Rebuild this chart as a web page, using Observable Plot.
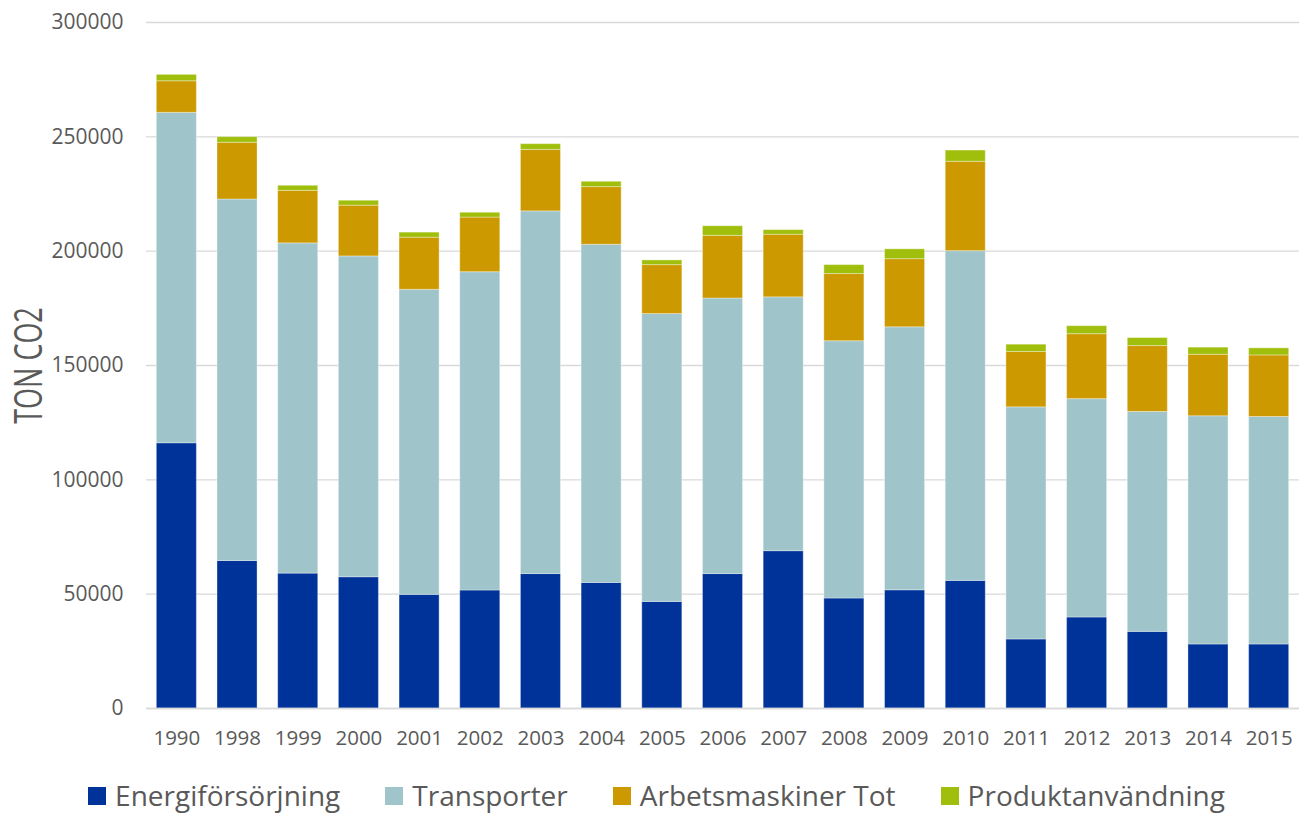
<!DOCTYPE html>
<html>
<head>
<meta charset="utf-8">
<script src="https://cdn.jsdelivr.net/npm/d3@7"></script>
<script src="https://cdn.jsdelivr.net/npm/@observablehq/plot@0.6"></script>
<style>
  body { margin: 0; background: #fff; font-family: "Open Sans", sans-serif; }
  #wrap { position: relative; width: 1299px; height: 813px; overflow: hidden; }
  #legend { position: absolute; top: 779px; left: 0; width: 1285px; padding-left: 14px; height: 31px; display: flex; justify-content: center; gap: 45px; font-size: 28px; line-height: 30px; color: #595959; }
  #legend .item { display: flex; align-items: center; white-space: nowrap; }
  #legend .sw { width: 18px; height: 18px; margin-right: 9px; margin-top: 2px; }
</style>
</head>
<body>
<div id="wrap"><div id="chart"></div><div id="legend"></div></div>
<script>
const years = ["1990","1998","1999","2000","2001","2002","2003","2004","2005","2006","2007","2008","2009","2010","2011","2012","2013","2014","2015"];
const energi =      [116000, 64500, 59000, 57400, 49700, 51600, 58800, 54900, 46600, 58800, 68800, 48100, 51700, 55800, 30200, 39800, 33500, 28000, 28000];
const transporter = [144500,158100,144400,140300,133400,139200,158600,147900,125900,120500,111000,112500,115000,144200,101500, 95500, 96200, 99800, 99500];
const arbets =      [ 13800, 24800, 23000, 22200, 22800, 23900, 26900, 25200, 21400, 27400, 27400, 29400, 29800, 39100, 24200, 28400, 28800, 26900, 26900];
const produkt =     [  2800,  2450,  2200,  2150,  2200,  2100,  2500,  2350,  2050,  4200,  2000,  3900,  4300,  4900,  3200,  3500,  3500,  3100,  3100];
const seriesNames = ["Energiförsörjning","Transporter","Arbetsmaskiner Tot","Produktanvändning"];
const seriesColors = ["#003399","#9FC5CA","#CC9900","#A0BF0C"];
const yTicks = [0, 50000, 100000, 150000, 200000, 250000, 300000];
const yLabel = "TON CO2";

const seriesValues = [energi, transporter, arbets, produkt];
const data = [];
seriesNames.forEach((s, i) => years.forEach((y, j) => data.push({year: y, series: s, value: seriesValues[i][j]})));

const chart = Plot.plot({
  width: 1299,
  height: 765,
  marginLeft: 146,
  marginRight: 0,
  marginTop: 22,
  marginBottom: 57,
  style: { fontFamily: "Open Sans, sans-serif", color: "#595959", background: "#fff" },
  x: { domain: years, paddingInner: 0.34, paddingOuter: 0.17, round: false, label: null },
  y: { domain: [0, 300000], label: null },
  color: { domain: seriesNames, range: seriesColors },
  marks: [
    Plot.gridY(yTicks, { stroke: "#D9D9D9", strokeOpacity: 1, strokeWidth: 1.4 }),
    Plot.barY(data, { x: "year", y: "value", fill: "series", order: seriesNames, stroke: "#fff", strokeOpacity: 0.35, strokeWidth: 1 }),
    Plot.axisY(yTicks, { tickSize: 0, tickPadding: 23, fontSize: 21, tickFormat: d => String(d), label: null }),
    Plot.axisX({ tickSize: 0, tickPadding: 22, fontSize: 20.5, label: null }),
    Plot.ruleY([0], { stroke: "#D9D9D9", strokeWidth: 1.4 }),
    Plot.text([yLabel], { frameAnchor: "left", dx: -117, rotate: -90, textAnchor: "middle", fontSize: 27, fill: "#595959" })
  ]
});
// stretch rotated label horizontally to mimic the reference's tall, condensed look
d3.select(chart).selectAll("text").filter(function() { return this.textContent === yLabel; })
  .each(function() {
    const t = this.getAttribute("transform") || "";
    if (t.includes("rotate")) this.setAttribute("transform", t.replace("rotate", "scale(1.4,1) rotate"));
  });
document.getElementById("chart").appendChild(chart);

const legend = document.getElementById("legend");
seriesNames.forEach((s, i) => {
  const it = document.createElement("div");
  it.className = "item";
  it.innerHTML = `<span class="sw" style="background:${seriesColors[i]}"></span><span>${s}</span>`;
  legend.appendChild(it);
});
</script>
</body>
</html>
